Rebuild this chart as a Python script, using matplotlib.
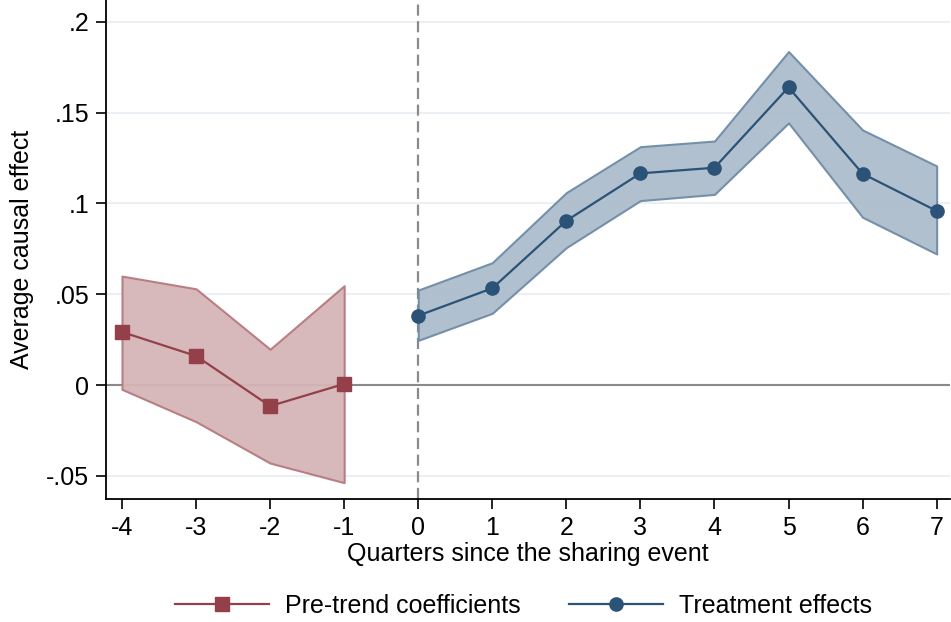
import numpy as np
import matplotlib
matplotlib.use('Agg')
import matplotlib.pyplot as plt
from matplotlib.lines import Line2D

plt.rcParams['font.family'] = ['Liberation Sans', 'DejaVu Sans']

# 데이터
pre_q = [-4, -3, -2, -1]
pre_coef = [0.0292, 0.0160, -0.0116, 0.0006]
pre_hi = [0.0600, 0.0530, 0.0197, 0.0547]
pre_lo = [-0.0024, -0.0202, -0.0430, -0.0538]

post_q = [0, 1, 2, 3, 4, 5, 6, 7]
post_coef = [0.0382, 0.0533, 0.0905, 0.1166, 0.1197, 0.1640, 0.1164, 0.0959]
post_hi = [0.0523, 0.0674, 0.1060, 0.1313, 0.1344, 0.1837, 0.1405, 0.1207]
post_lo = [0.0246, 0.0395, 0.0757, 0.1016, 0.1050, 0.1444, 0.0924, 0.0722]

x_ticks = list(range(-4, 8))
y_ticks = [-0.05, 0, 0.05, 0.1, 0.15, 0.2]
y_labels = ['-.05', '0', '.05', '.1', '.15', '.2']

red = '#94404a'
red_fill = '#d5b5b8'
red_edge = '#b7797f'
blue = '#2b5277'
blue_fill = '#adbdcc'
blue_edge = '#6f8ca6'

FS = 18

fig = plt.figure(figsize=(9.51, 6.22), dpi=100)
ax = fig.add_axes([106 / 951, 1 - 499 / 622, 844 / 951, 499 / 622])

# 그리드 / 기준선
for yv in y_ticks:
    ax.axhline(yv, color='#eaf0f4', lw=1.5, zorder=0)
ax.axhline(0, color='#8a8a8a', lw=1.5, zorder=1)
ax.axvline(0, color='#8a8a8a', lw=1.6, ls=(0, (5, 2.5)), zorder=1)

# 신뢰구간
ax.fill_between(pre_q, pre_lo, pre_hi, facecolor=red_fill, edgecolor=red_edge,
                lw=1.5, alpha=0.95, zorder=2)
ax.fill_between(post_q, post_lo, post_hi, facecolor=blue_fill, edgecolor=blue_edge,
                lw=1.5, alpha=0.95, zorder=2)

# 계수
ax.plot(pre_q, pre_coef, color=red, lw=1.6, marker='s', ms=9.5, zorder=3)
ax.plot(post_q, post_coef, color=blue, lw=1.6, marker='o', ms=9.5, zorder=3)

ax.set_xlim(-4.216, 7.18)
ax.set_ylim(-0.0628, 0.2121)
ax.set_xticks(x_ticks)
ax.set_xticklabels([str(v) for v in x_ticks])
ax.set_yticks(y_ticks)
ax.set_yticklabels(y_labels)
ax.tick_params(axis='both', direction='out', length=7, width=1.2, labelsize=FS, pad=5)

for s in ['top', 'right']:
    ax.spines[s].set_visible(False)
for s in ['left', 'bottom']:
    ax.spines[s].set_linewidth(1.3)

ax.set_xlabel('Quarters since the sharing event', fontsize=FS, labelpad=2)
ax.set_ylabel('Average causal effect', fontsize=FS, labelpad=9)

handles = [
    Line2D([], [], color=red, lw=1.6, marker='s', ms=9.5),
    Line2D([], [], color=blue, lw=1.6, marker='o', ms=9.5),
]
fig.legend(handles, ['Pre-trend coefficients', 'Treatment effects'],
           loc='center', bbox_to_anchor=(0.5505, 1 - 606 / 622), ncol=2,
           frameon=False, fontsize=FS, handlelength=3.76, handletextpad=0.64,
           columnspacing=1.96)

plt.savefig('out.png', dpi=100)
plt.close()
